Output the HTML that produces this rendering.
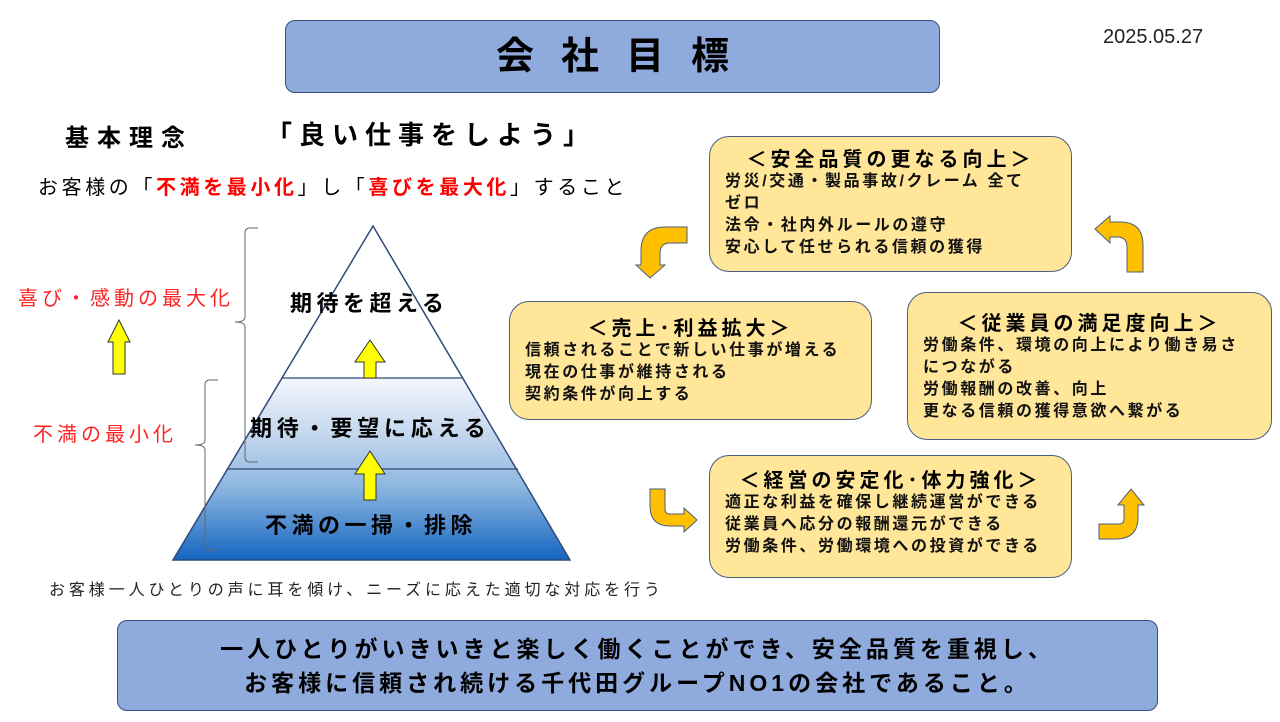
<!DOCTYPE html>
<html><head><meta charset="utf-8"><style>
body{margin:0;width:1280px;height:722px;background:#fff;position:relative;overflow:hidden;font-family:"Liberation Sans","Noto Sans CJK JP",sans-serif;}
.a{position:absolute;white-space:nowrap;}
.box{position:absolute;background:#ffe699;border:1.5px solid #4a5f80;border-radius:20px;box-sizing:border-box;}
.box .t{font-weight:bold;font-size:20px;text-align:center;line-height:22px;margin-top:12px;letter-spacing:4px;}
.box .l{font-weight:bold;font-size:16px;line-height:22px;padding-left:15px;color:#111;letter-spacing:2.6px;}
</style></head><body>
<div class="a" style="left:285px;top:20px;width:655px;height:73px;background:#8faadc;border:1.5px solid #3a4f7a;border-radius:10px;box-sizing:border-box;text-align:center;line-height:72px;font-size:38px;font-weight:bold;letter-spacing:27px;padding-left:27px;">会社目標</div>
<div class="a" style="left:1103px;top:26px;font-size:20px;color:#222;">2025.05.27</div>
<div class="a" style="left:65px;top:118px;font-size:24px;font-weight:bold;letter-spacing:8px;">基本理念</div>
<div class="a" style="left:266px;top:115px;font-size:26px;font-weight:bold;letter-spacing:7px;">「良い仕事をしよう」</div>
<div class="a" style="left:38px;top:171px;font-size:20px;letter-spacing:3.6px;">お客様の「<b style="color:#f00">不満を最小化</b>」し「<b style="color:#f00">喜びを最大化</b>」すること</div>
<svg class="a" style="left:0;top:0" width="1280" height="722">
<defs><linearGradient id="g" x1="0" y1="0" x2="0" y2="1">
<stop offset="0" stop-color="#f4f7fc"/><stop offset="0.35" stop-color="#bdd3ec"/><stop offset="0.6" stop-color="#8db6e0"/><stop offset="1" stop-color="#1565c0"/></linearGradient></defs>
<polygon points="282,378 463,378 570,560 173,560" fill="url(#g)"/>
<polygon points="373,226 570,560 173,560" fill="none" stroke="#2f4a7a" stroke-width="1.5"/>
<line x1="282" y1="378" x2="463" y2="378" stroke="#2f4a7a" stroke-width="1.2"/>
<line x1="228" y1="469" x2="518" y2="469" stroke="#2f4a7a" stroke-width="1.2"/>
<g fill="#ffff00" stroke="#333" stroke-width="1">
<polygon points="364,378 364,362 355,362 370,340 385,362 376,362 376,378"/>
<polygon points="364,500 364,474 355,474 370,451 385,474 376,474 376,500"/>
<polygon points="113,374 113,342 108,342 119,320 130,342 125,342 125,374"/>
</g>
<path d="M258,228 h-8 q-5,0 -5,5 v84 q0,5 -10,5 q10,0 10,5 v130 q0,5 5,5 h8" fill="none" stroke="#666" stroke-width="1"/>
<path d="M218,380 h-8 q-5,0 -5,5 v55 q0,5 -10,5 q10,0 10,5 v95 q0,5 5,5 h8" fill="none" stroke="#666" stroke-width="1"/>
<g fill="#ffc000" stroke="#4a5f80" stroke-width="1">
<path d="M687,227 v16 h-17 q-10,0 -10,10 v12 h5 l-15,13 l-14,-13 h5 v-14 q0,-24 24,-24 z"/>
<path d="M1143,272 h-16 v-25 q0,-10 -10,-10 h-7 v6 l-15,-14 l15,-13 v6 h10 q23,0 23,23 z"/>
<path d="M650,489 h15 v20 q0,5 5,5 h14 v-6 l13,12 l-13,12 v-6 h-14 q-20,0 -20,-20 z"/>
<path d="M1099,539 v-15 h20 q5,0 5,-5 v-14 h-6 l13,-16 l13,16 h-6 v12 q0,22 -22,22 z"/>
</g>
</svg>
<div class="a" style="left:290px;top:286px;font-size:22px;font-weight:bold;letter-spacing:4.5px;">期待を超える</div>
<div class="a" style="left:250px;top:411px;font-size:22px;font-weight:bold;letter-spacing:4.8px;">期待・要望に応える</div>
<div class="a" style="left:265px;top:508px;font-size:22px;font-weight:bold;letter-spacing:4.5px;">不満の一掃・排除</div>
<div class="a" style="left:18px;top:282px;font-size:20px;color:#f22;letter-spacing:4px;">喜び・感動の最大化</div>
<div class="a" style="left:33px;top:418px;font-size:20px;color:#f22;letter-spacing:4px;">不満の最小化</div>
<div class="a" style="left:49px;top:576px;font-size:16px;color:#222;letter-spacing:3.9px;">お客様一人ひとりの声に耳を傾け、ニーズに応えた適切な対応を行う</div>

<div class="box" style="left:709px;top:136px;width:363px;height:136px;"><div class="t" style="margin-top:12px">＜安全品質の更なる向上＞</div>
<div class="l">労災/交通・製品事故/クレーム 全て<br>ゼロ<br>法令・社内外ルールの遵守<br>安心して任せられる信頼の獲得</div></div>
<div class="box" style="left:509px;top:301px;width:363px;height:119px;"><div class="t" style="margin-top:16px">＜売上･利益拡大＞</div>
<div class="l">信頼されることで新しい仕事が増える<br>現在の仕事が維持される<br>契約条件が向上する</div></div>
<div class="box" style="left:907px;top:292px;width:365px;height:148px;"><div class="t" style="margin-top:20px">＜従業員の満足度向上＞</div>
<div class="l">労働条件、環境の向上により働き易さ<br>につながる<br>労働報酬の改善、向上<br>更なる信頼の獲得意欲へ繋がる</div></div>
<div class="box" style="left:709px;top:455px;width:363px;height:123px;"><div class="t" style="margin-top:14px">＜経営の安定化･体力強化＞</div>
<div class="l">適正な利益を確保し継続運営ができる<br>従業員へ応分の報酬還元ができる<br>労働条件、労働環境への投資ができる</div></div>

<div class="a" style="left:117px;top:620px;width:1041px;height:91px;background:#8faadc;border:1.5px solid #3a4f7a;border-radius:10px;box-sizing:border-box;text-align:center;font-size:23px;font-weight:bold;line-height:34px;padding-top:11px;letter-spacing:4px;">一人ひとりがいきいきと楽しく働くことができ、安全品質を重視し、<br>お客様に信頼され続ける千代田グループNO1の会社であること。</div>
</body></html>
